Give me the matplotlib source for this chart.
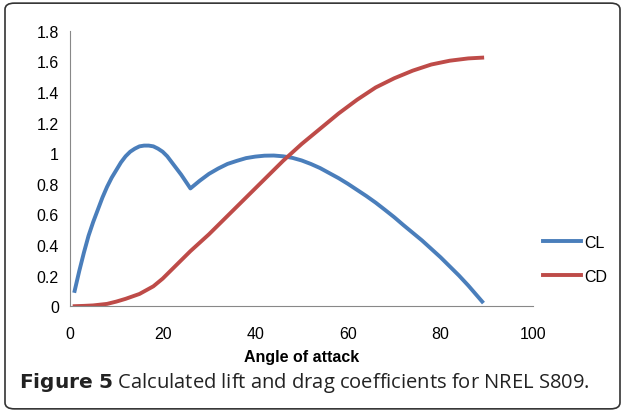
import matplotlib.pyplot as plt
from matplotlib.patches import FancyBboxPatch

angle_cl = [1, 2, 3, 4, 5, 6, 7, 8, 9, 10, 11, 12, 13, 14, 15, 16, 17, 18, 19, 20, 21, 22, 23, 24, 25, 26,
            27, 28, 30, 32, 34, 36, 38, 40, 42, 44, 46, 48, 50, 52, 54, 56, 58, 60, 62, 64, 66, 68, 70, 72,
            74, 76, 78, 80, 82, 84, 86, 87, 88, 89]
cl = [0.10, 0.23, 0.35, 0.46, 0.55, 0.63, 0.71, 0.78, 0.84, 0.89, 0.94, 0.98, 1.01, 1.03, 1.045, 1.05, 1.05,
      1.045, 1.03, 1.01, 0.98, 0.94, 0.90, 0.86, 0.815, 0.77, 0.795, 0.82, 0.865, 0.90, 0.93, 0.95, 0.968,
      0.978, 0.984, 0.985, 0.98, 0.97, 0.953, 0.93, 0.903, 0.87, 0.837, 0.80, 0.76, 0.72, 0.677, 0.63,
      0.582, 0.53, 0.48, 0.43, 0.375, 0.32, 0.26, 0.20, 0.135, 0.10, 0.065, 0.03]
angle_cd = [1, 3, 5, 8, 10, 12, 15, 18, 20, 22, 26, 30, 34, 38, 42, 46, 50, 54, 58, 62, 66, 70, 74, 78, 82,
            86, 89]
cd = [0.0, 0.002, 0.005, 0.015, 0.03, 0.048, 0.08, 0.13, 0.18, 0.24, 0.36, 0.47, 0.59, 0.71, 0.83, 0.95,
      1.06, 1.16, 1.26, 1.35, 1.43, 1.49, 1.54, 1.58, 1.605, 1.62, 1.625]

plt.rcParams['font.family'] = ['Liberation Sans', 'DejaVu Sans']

fig = plt.figure(figsize=(6.25, 4.14), dpi=100)
fig.patches.append(FancyBboxPatch((0.008, 0.01), 0.984, 0.98, boxstyle='round,pad=0,rounding_size=0.015',
                                  transform=fig.transFigure, facecolor='white', edgecolor='#333333',
                                  linewidth=1.2, zorder=-1))
ax = fig.add_axes([0.112, 0.258, 0.741, 0.665])
ax.patch.set_alpha(0)
ax.plot(angle_cl, cl, color='#4a7ebb', linewidth=2.8, label='CL')
ax.plot(angle_cd, cd, color='#be4b48', linewidth=2.8, label='CD')
ax.set_xlim(0, 100)
ax.set_ylim(0, 1.8)
ax.set_xticks(range(0, 101, 20))
ax.set_yticks([0, 0.2, 0.4, 0.6, 0.8, 1, 1.2, 1.4, 1.6, 1.8])
ax.set_yticklabels(['0', '0.2', '0.4', '0.6', '0.8', '1', '1.2', '1.4', '1.6', '1.8'])
for s in ['top', 'right']:
    ax.spines[s].set_visible(False)
ax.spines['left'].set_color('#888888')
ax.spines['bottom'].set_color('#888888')
ax.tick_params(length=0, labelsize=11.5, pad=8)
ax.tick_params(axis='x', pad=14)
ax.set_xlabel('Angle of attack', fontsize=11.5, fontweight='bold', labelpad=6)
ax.legend(loc='center left', bbox_to_anchor=(0.99, 0.17), frameon=False, fontsize=11.5, handlelength=2.4,
          labelspacing=1.2, handletextpad=0.2)
fig.text(0.03, 0.075, r'$\bf{Figure\ 5}$ Calculated lift and drag coefficients for NREL S809.', fontsize=14.5,
         color='#222222', va='center', family='Open Sans')
fig.savefig('out.png', dpi=100)
